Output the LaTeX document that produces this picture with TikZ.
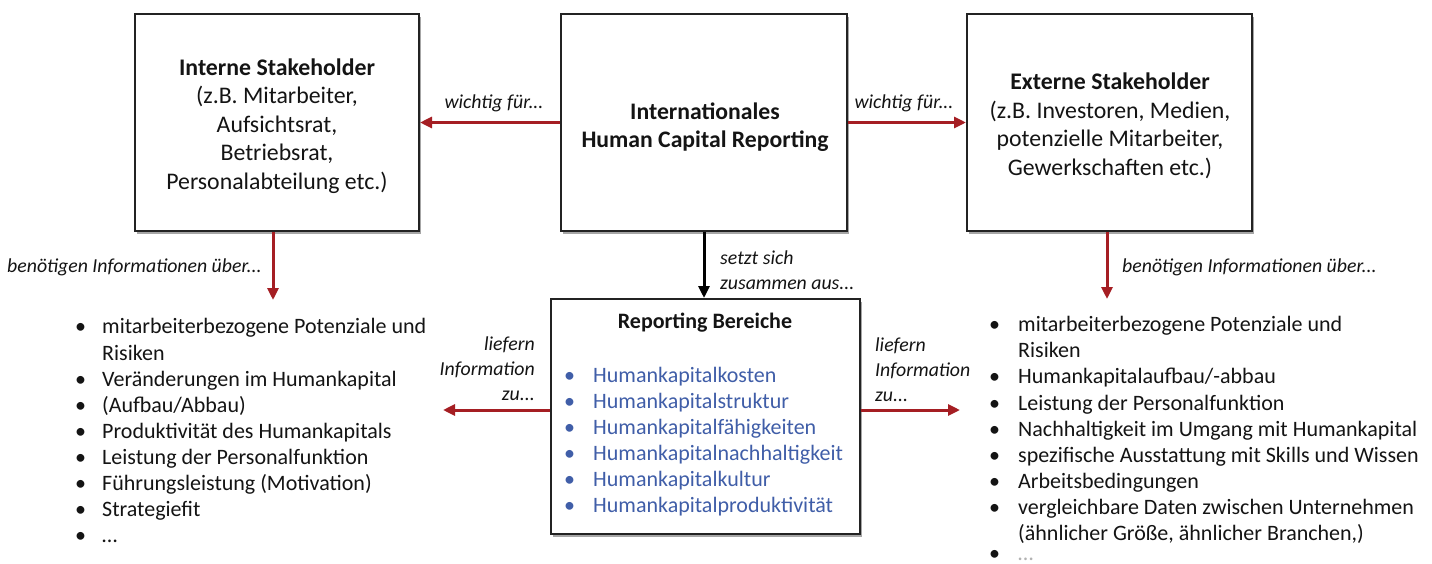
\documentclass[tikz,border=0pt]{standalone}
\usepackage{fontspec}
\setmainfont{Carlito}
\usetikzlibrary{arrows.meta,shadows}
\definecolor{arrowred}{RGB}{165,30,35}
\definecolor{itemblue}{RGB}{64,94,168}
\definecolor{boxline}{RGB}{35,35,35}
\definecolor{txt}{RGB}{20,20,20}
\newcommand\bitem[2]{\makebox[#1][l]{•}#2}
\begin{document}
\begin{tikzpicture}[x=1pt,y=-1pt,
  box/.style={draw=boxline, line width=2pt, fill=white,
    drop shadow={shadow xshift=2pt, shadow yshift=-2.5pt, opacity=0.35, fill=black},
    inner sep=0pt},
  boxtext/.style={font=\fontsize{23.8}{28.5}\selectfont, align=center, inner sep=0pt, text=txt},
  lbl/.style={font=\fontsize{19.8}{25}\selectfont\itshape, inner sep=0pt, text=txt},
  listfont/.style={font=\fontsize{22}{26.1}\selectfont, inner sep=0pt, text=txt, anchor=north west},
  redarrow/.style={draw=arrowred, line width=3pt, -{Triangle[length=12pt,width=11pt]}},
  blackarrow/.style={draw=black, line width=3pt, -{Triangle[length=12pt,width=11pt]}}]
\fill[white] (0,0) rectangle (1432,563);
\useasboundingbox (0,0) rectangle (1432,563);

% boxes
\node[box, minimum width=284pt, minimum height=217pt] (intern) at (277,122.5) {};
\node[box, minimum width=286pt, minimum height=217pt] (hcr) at (704,122.5) {};
\node[box, minimum width=285pt, minimum height=217pt] (extern) at (1109.5,122.5) {};
\node[box, minimum width=309pt, minimum height=235pt] (rb) at (705.5,416.5) {};

% box texts
\node[boxtext] (interntext) at (277,126)
  {\textbf{Interne Stakeholder}\\(z.B. Mitarbeiter,\\Aufsichtsrat,\\Betriebsrat,\\Personalabteilung etc.)};
\node[boxtext, font=\fontsize{23.7}{28}\selectfont\bfseries] (hcrtext) at (705,127)
  {Internationales\\Human Capital Reporting};
\node[boxtext] (externtext) at (1110,126)
  {\textbf{Externe Stakeholder}\\(z.B. Investoren, Medien,\\potenzielle Mitarbeiter,\\Gewerkschaften etc.)};
\node[font=\fontsize{22}{26}\selectfont\bfseries, inner sep=0pt, text=txt] (rbtitle) at (705,323) {Reporting Bereiche};
\node[listfont, text=itemblue] (rbitems) at (564,363.7) {%
  \begin{tabular}{@{}l@{}}
  \bitem{29pt}{Humankapitalkosten}\\
  \bitem{29pt}{Humankapitalstruktur}\\
  \bitem{29pt}{Humankapitalfähigkeiten}\\
  \bitem{29pt}{Humankapitalnachhaltigkeit}\\
  \bitem{29pt}{Humankapitalkultur}\\
  \bitem{29pt}{Humankapitalproduktivität}
  \end{tabular}};

% lists
\node[listfont] (leftlist) at (75,315.5) {%
  \begin{tabular}{@{}l@{}}
  \bitem{27pt}{mitarbeiterbezogene Potenziale und}\\
  \hspace*{27pt}Risiken\\
  \bitem{27pt}{Veränderungen im Humankapital}\\
  \bitem{27pt}{(Aufbau/Abbau)}\\
  \bitem{27pt}{Produktivität des Humankapitals}\\
  \bitem{27pt}{Leistung der Personalfunktion}\\
  \bitem{27pt}{Führungsleistung (Motivation)}\\
  \bitem{27pt}{Strategiefit}\\
  \bitem{27pt}{…}
  \end{tabular}};
\node[listfont] (rightlist) at (989,313.3) {%
  \begin{tabular}{@{}l@{}}
  \bitem{29pt}{mitarbeiterbezogene Potenziale und}\\
  \hspace*{29pt}Risiken\\
  \bitem{29pt}{Humankapitalaufbau/-abbau}\\
  \bitem{29pt}{Leistung der Personalfunktion}\\
  \bitem{29pt}{Nachhaltigkeit im Umgang mit Humankapital}\\
  \bitem{29pt}{spezifische Ausstattung mit Skills und Wissen}\\
  \bitem{29pt}{Arbeitsbedingungen}\\
  \bitem{29pt}{vergleichbare Daten zwischen Unternehmen}\\
  \hspace*{29pt}(ähnlicher Größe, ähnlicher Branchen,)
  \end{tabular}};
\node[font=\fontsize{22}{26.1}\selectfont, inner sep=0pt, text=txt, anchor=base west] (rightdots) at (989,560.5)
  {\bitem{29pt}{\textcolor{black!30}{…}}};

% connector end points
\coordinate (ldown) at (273,300);
\coordinate (rdown) at (1107,299);
\coordinate (larr) at (443,410);
\coordinate (rarr) at (960,410);

% connectors
\draw[redarrow] (hcr.west) -- (intern.east);
\draw[redarrow] (hcr.east) -- (extern.west);
\draw[blackarrow] (hcr.south) -- (rb.north -| hcr.south);
\draw[redarrow] (intern.south -| ldown) -- (ldown);
\draw[redarrow] (extern.south -| rdown) -- (rdown);
\draw[redarrow] (rb.west |- larr) -- (larr);
\draw[redarrow] (rb.east |- rarr) -- (rarr);

% labels
\node[lbl] (wl) at (494,103) {wichtig für...};
\node[lbl] (wr) at (904,103) {wichtig für...};
\node[lbl, anchor=west] (bl) at (7,267) {benötigen Informationen über...};
\node[lbl, anchor=west] (br) at (1122,267) {benötigen Informationen über...};
\node[lbl, anchor=west, align=left] (setzt) at (720,270) {setzt sich\\zusammen aus...};
\node[lbl, anchor=east, align=right] (liefl) at (535,369) {liefern\\Information\\zu...};
\node[lbl, anchor=west, align=left] (liefr) at (875,370) {liefern\\Information\\zu...};
\end{tikzpicture}
\end{document}
